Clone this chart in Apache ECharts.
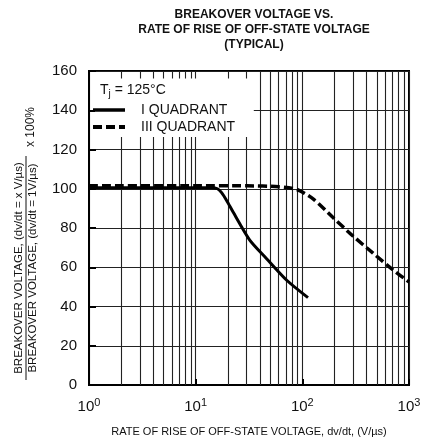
<!DOCTYPE html>
<html>
<head>
<meta charset="utf-8">
<script src="https://cdn.jsdelivr.net/npm/echarts@6/dist/echarts.min.js"></script>
<style>
html,body{margin:0;padding:0;background:#fff;}
#chart{width:427px;height:442px;}
</style>
</head>
<body>
<div id="chart"></div>
<script>
// ---- data ----
var solidX = [1, 3, 8, 14, 16, 17.5, 19.5, 22.5, 32, 46, 71, 113];
var solidY = [100.5, 100.5, 100.5, 100.5, 100, 98, 94, 88, 74, 64.5, 53.5, 44.5];
var dashedX = [1, 10, 30, 60, 90, 127, 195, 300, 460, 710, 1000];
var dashedY = [101.5, 101.5, 101.5, 101, 99.5, 94.7, 85.2, 75.8, 67.2, 58.6, 52.5];
var seriesNames = ['I QUADRANT', 'III QUADRANT'];
var xTicks = [1, 10, 100, 1000];
var yTicks = [0, 20, 40, 60, 80, 100, 120, 140, 160];
var minorGrid = [2,3,4,5,6,7,8,9, 20,30,40,50,60,70,80,90, 200,300,400,500,600,700,800,900];

function pairs(xs, ys){ return xs.map(function(x,i){ return [x, ys[i]]; }); }

var FONT = '"Liberation Sans", Arial, sans-serif';
var chart = echarts.init(document.getElementById('chart'), null, {renderer:'canvas'});

var option = {
  backgroundColor: '#ffffff',
  animation: false,
  title: [{
    text: 'BREAKOVER VOLTAGE VS.\nRATE OF RISE OF OFF-STATE VOLTAGE\n(TYPICAL)',
    left: 249, top: 2, textAlign: 'center',
    textStyle: {fontFamily: FONT, fontSize: 12, fontWeight: 'bold', color: '#111', lineHeight: 15}
  }, {
    text: '{a|T}{j|j}{a| = 125\u00b0C}',
    left: 95, top: 77, z: 20,
    backgroundColor: '#ffffff',
    padding: [5, 88, 38, 5],
    textStyle: {
      fontWeight: 'normal',
      rich: {
        a: {fontFamily: FONT, fontSize: 14, fontWeight: 'normal', color: '#111'},
        j: {fontFamily: FONT, fontSize: 10, fontWeight: 'normal', color: '#111', padding: [7,0,0,0]}
      }
    }
  }],
  grid: {left: 89, right: 18, top: 71, bottom: 57, show: true, borderColor: '#000', borderWidth: 2, backgroundColor: 'transparent'},
  xAxis: {
    type: 'log', logBase: 10, min: xTicks[0], max: xTicks[xTicks.length-1],
    name: 'RATE OF RISE OF OFF-STATE VOLTAGE, dv/dt, (V/\u00b5s)',
    nameLocation: 'middle', nameGap: 41,
    nameTextStyle: {fontFamily: FONT, fontSize: 11, color: '#111'},
    axisLine: {show: true, lineStyle: {color: '#000', width: 2}},
    axisTick: {show: true, inside: true, length: 6, lineStyle: {color: '#000', width: 2}},
    splitLine: {show: true, lineStyle: {color: '#222', width: 1.1}},
    axisLabel: {
      margin: 12,
      formatter: function(v){ return '{b|10}{s|' + Math.round(Math.log10(v)) + '}'; },
      rich: {
        b: {fontFamily: FONT, fontSize: 15, color: '#111'},
        s: {fontFamily: FONT, fontSize: 11, color: '#111', padding: [0,0,9,0]}
      }
    }
  },
  yAxis: {
    type: 'value', min: yTicks[0], max: yTicks[yTicks.length-1], interval: 20,
    axisLine: {show: true, lineStyle: {color: '#000', width: 2}},
    axisTick: {show: true, inside: true, length: 7, lineStyle: {color: '#000', width: 2}},
    splitLine: {show: true, lineStyle: {color: '#222', width: 1.1}},
    axisLabel: {margin: 12, fontFamily: FONT, fontSize: 15, color: '#111'}
  },
  legend: {
    orient: 'vertical', left: 91, top: 103, z: 30,
    padding: 0,
    itemWidth: 32, itemHeight: 14, itemGap: 3,
    itemStyle: {opacity: 0},
    textStyle: {fontFamily: FONT, fontSize: 14, color: '#111', padding: [0,0,0,11]},
    data: [
      {name: seriesNames[0], lineStyle: {color: '#000', width: 3.5, type: 'solid'}},
      {name: seriesNames[1], lineStyle: {color: '#000', width: 4, type: [9,4]}}
    ]
  },
  graphic: {
    elements: [
      {type: 'text', x: 19, y: 268, rotation: Math.PI/2, style: {
        text: 'BREAKOVER VOLTAGE, (dv/dt = x V/\u00b5s)', font: '11.5px ' + FONT, fill: '#111',
        align: 'center', verticalAlign: 'middle'
      }},
      {type: 'line', shape: {x1: 26, y1: 156, x2: 26, y2: 380}, style: {stroke: '#111', lineWidth: 1}},
      {type: 'text', x: 33, y: 268, rotation: Math.PI/2, style: {
        text: 'BREAKOVER VOLTAGE, (dv/dt = 1V/\u00b5s)', font: '11.5px ' + FONT, fill: '#111',
        align: 'center', verticalAlign: 'middle'
      }},
      {type: 'text', x: 31, y: 127, rotation: Math.PI/2, style: {
        text: 'x 100%', font: '12px ' + FONT, fill: '#111',
        align: 'center', verticalAlign: 'middle'
      }}
    ]
  },
  series: [
    {
      name: seriesNames[0], type: 'line', data: pairs(solidX, solidY), z: 5,
      symbol: 'none', smooth: 0.25,
      lineStyle: {color: '#000', width: 3, type: 'solid'},
      itemStyle: {color: '#000'},
      markLine: {
        silent: true, symbol: ['none','none'], label: {show: false}, animation: false,
        lineStyle: {color: '#222', width: 1.1, type: 'solid'},
        data: minorGrid.map(function(v){ return {xAxis: v}; })
      }
    },
    {
      name: seriesNames[1], type: 'line', data: pairs(dashedX, dashedY), z: 5,
      symbol: 'none', smooth: 0.25,
      lineStyle: {color: '#000', width: 3.5, type: [9,4]},
      itemStyle: {color: '#000'}
    }
  ]
};
chart.setOption(option);
</script>
</body>
</html>
